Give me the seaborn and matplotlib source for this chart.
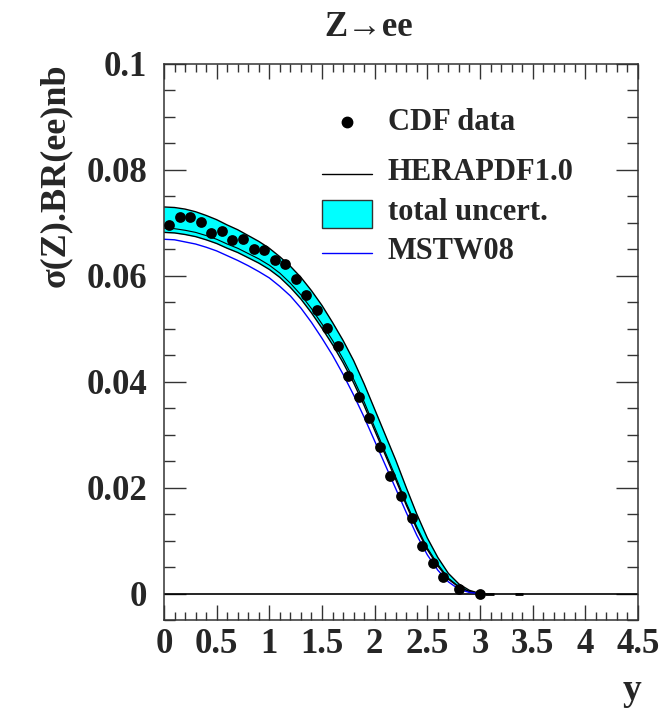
import numpy as np
import pandas as pd
import matplotlib
matplotlib.use("Agg")
import matplotlib.pyplot as plt
import seaborn as sns
from matplotlib.patches import Rectangle
from matplotlib.lines import Line2D
from matplotlib.ticker import MultipleLocator, FixedLocator, FixedFormatter

# Rapidity grid for the theory predictions
rapidity = [0.0, 0.1, 0.2, 0.3, 0.4, 0.5, 0.6, 0.7, 0.8, 0.9, 1.0,
            1.1, 1.2, 1.3, 1.4, 1.5, 1.6, 1.7, 1.8, 1.9, 2.0,
            2.1, 2.2, 2.3, 2.4, 2.5, 2.6, 2.7, 2.8, 2.9, 3.0]

# HERAPDF1.0 total uncertainty band (upper / lower edges) and central value, nb
hera_upper = [0.0730, 0.0729, 0.0726, 0.0721, 0.0714, 0.0706, 0.0696, 0.0687, 0.0676, 0.0665, 0.0652,
              0.0636, 0.0618, 0.0597, 0.0572, 0.0544, 0.0512, 0.0478, 0.0440, 0.0396, 0.0348,
              0.0300, 0.0252, 0.0200, 0.0150, 0.0105, 0.0068, 0.0038, 0.0018, 0.0006, 0.0000]
hera_lower = [0.0682, 0.0681, 0.0678, 0.0674, 0.0668, 0.0661, 0.0652, 0.0644, 0.0634, 0.0624, 0.0612,
              0.0597, 0.0578, 0.0556, 0.0530, 0.0501, 0.0470, 0.0436, 0.0398, 0.0355, 0.0308,
              0.0262, 0.0215, 0.0167, 0.0122, 0.0083, 0.0052, 0.0027, 0.0012, 0.0003, 0.0000]
hera_central = [0.0690, 0.0689, 0.0686, 0.0682, 0.0676, 0.0669, 0.0660, 0.0652, 0.0642, 0.0632, 0.0620,
                0.0605, 0.0586, 0.0564, 0.0538, 0.0509, 0.0478, 0.0443, 0.0405, 0.0362, 0.0314,
                0.0267, 0.0220, 0.0171, 0.0126, 0.0086, 0.0055, 0.0029, 0.0013, 0.0004, 0.0000]

# MSTW08 prediction, nb
mstw08 = [0.0669, 0.0668, 0.0664, 0.0660, 0.0654, 0.0647, 0.0638, 0.0629, 0.0619, 0.0608, 0.0596,
          0.0580, 0.0562, 0.0539, 0.0512, 0.0482, 0.0450, 0.0414, 0.0375, 0.0333, 0.0288,
          0.0243, 0.0198, 0.0153, 0.0110, 0.0073, 0.0044, 0.0022, 0.0008, 0.0002, 0.0000]

# CDF measurement
cdf_y = [0.05, 0.15, 0.25, 0.35, 0.45, 0.55, 0.65, 0.75, 0.85, 0.95,
         1.05, 1.15, 1.25, 1.35, 1.45, 1.55, 1.65, 1.75, 1.85, 1.95,
         2.05, 2.15, 2.25, 2.35, 2.45, 2.55, 2.65, 2.80, 3.00]
cdf_xsec = [0.0696, 0.0711, 0.0712, 0.0701, 0.0681, 0.0684, 0.0667, 0.0669, 0.0651, 0.0649,
            0.0629, 0.0622, 0.0594, 0.0563, 0.0535, 0.0501, 0.0467, 0.0410, 0.0371, 0.0331,
            0.0277, 0.0221, 0.0184, 0.0143, 0.0089, 0.0058, 0.0032, 0.0009, 0.0000]

# empty high-rapidity bins (drawn as bin-width dashes at zero)
empty_bin_lo = [3.05, 3.33]
empty_bin_hi = [3.13, 3.41]

# axis ticks
x_ticks = [0, 0.5, 1, 1.5, 2, 2.5, 3, 3.5, 4, 4.5]
x_ticklabels = ["0", "0.5", "1", "1.5", "2", "2.5", "3", "3.5", "4", "4.5"]
y_ticks = [0, 0.02, 0.04, 0.06, 0.08, 0.1]
y_ticklabels = ["0", "0.02", "0.04", "0.06", "0.08", "0.1"]

theory = pd.DataFrame({"y": rapidity, "upper": hera_upper, "lower": hera_lower,
                       "central": hera_central, "mstw": mstw08})
data = pd.DataFrame({"y": cdf_y, "xsec": cdf_xsec})

sns.set_style("ticks")
plt.rcParams["font.family"] = ["Liberation Serif", "DejaVu Serif"]
plt.rcParams["font.weight"] = "bold"

W, H = 665, 710
fig = plt.figure(figsize=(W / 100, H / 100), dpi=100)
fig.patch.set_facecolor("white")
ax = fig.add_axes([164 / W, 1 - 620 / H, 474 / W, 556 / H])
ax.set_facecolor("white")

CYAN = "#00FFFF"
ax.fill_between(theory["y"], theory["lower"], theory["upper"], color=CYAN, lw=0, zorder=1)
sns.lineplot(data=theory, x="y", y="upper", color="black", lw=1.0, ax=ax, zorder=2)
sns.lineplot(data=theory, x="y", y="lower", color="black", lw=1.0, ax=ax, zorder=2)
sns.lineplot(data=theory, x="y", y="central", color="black", lw=0.8, ax=ax, zorder=2)
sns.lineplot(data=theory, x="y", y="mstw", color="#0000FF", lw=1.0, ax=ax, zorder=2)

ax.axhline(0, color="black", lw=1.2, zorder=1.5)
ax.hlines([0] * len(empty_bin_lo), empty_bin_lo, empty_bin_hi, color="black", lw=2.0, zorder=3)

sns.scatterplot(data=data, x="y", y="xsec", color="black", s=60, marker="o",
                edgecolor="black", linewidth=0, ax=ax, zorder=4)

ax.set_xlim(0, 4.5)
ax.set_ylim(-0.005, 0.1)
ax.set_xlabel("")
ax.set_ylabel("")

ax.xaxis.set_major_locator(FixedLocator(x_ticks))
ax.xaxis.set_major_formatter(FixedFormatter(x_ticklabels))
ax.xaxis.set_minor_locator(MultipleLocator(0.1))
ax.yaxis.set_major_locator(FixedLocator(y_ticks))
ax.yaxis.set_major_formatter(FixedFormatter(y_ticklabels))
ax.yaxis.set_minor_locator(MultipleLocator(0.005))

ax.tick_params(which="both", direction="in", top=True, right=True, color="#333333", width=1.0)
ax.tick_params(axis="y", which="major", length=16, pad=12)
ax.tick_params(axis="y", which="minor", length=8)
ax.tick_params(axis="x", which="major", length=11, pad=6)
ax.tick_params(axis="x", which="minor", length=5.5)
for lab in ax.get_xticklabels() + ax.get_yticklabels():
    lab.set_fontsize(25)
    lab.set_fontweight("bold")

for sp in ax.spines.values():
    sp.set_color("#333333")
    sp.set_linewidth(1.1)

# legend
def ax_xy(px, py):
    return (px - 164) / 474, (620 - py) / 556

tx = ax_xy(388, 0)[0]
ax.add_line(Line2D([ax_xy(347, 0)[0]], [ax_xy(0, 122)[1]], marker="o", color="black",
                   markersize=7.5, lw=0, transform=ax.transAxes))
ax.text(tx, ax_xy(0, 123)[1], "CDF data", transform=ax.transAxes, fontsize=22,
        fontweight="bold", va="center", ha="left")
x0, x1 = ax_xy(322, 0)[0], ax_xy(372, 0)[0]
ax.add_line(Line2D([x0, x1], [ax_xy(0, 174)[1]] * 2, color="black", lw=1.0, transform=ax.transAxes))
ax.text(tx, ax_xy(0, 173)[1], "HERAPDF1.0", transform=ax.transAxes, fontsize=22,
        fontweight="bold", va="center", ha="left")
ax.add_patch(Rectangle((x0, ax_xy(0, 228)[1]), x1 - x0, ax_xy(0, 200)[1] - ax_xy(0, 228)[1],
                       facecolor=CYAN, edgecolor="#333333", lw=1.0, transform=ax.transAxes))
ax.text(tx, ax_xy(0, 213)[1], "total uncert.", transform=ax.transAxes, fontsize=22,
        fontweight="bold", va="center", ha="left")
ax.add_line(Line2D([x0, x1], [ax_xy(0, 253)[1]] * 2, color="#0000FF", lw=1.0, transform=ax.transAxes))
ax.text(tx, ax_xy(0, 252)[1], "MSTW08", transform=ax.transAxes, fontsize=22,
        fontweight="bold", va="center", ha="left")

fig.text(369 / W, 1 - 28 / H, "Z→ee", fontsize=25, fontweight="bold", ha="center", va="center")
fig.text(55 / W, 1 - 175 / H, "σ(Z).BR(ee)nb", fontsize=26, fontweight="bold",
         rotation=90, ha="center", va="center")
fig.text(632 / W, 1 - 690 / H, "y", fontsize=27, fontweight="bold", ha="center", va="center")

fig.savefig("out.png", dpi=100, facecolor="white")
